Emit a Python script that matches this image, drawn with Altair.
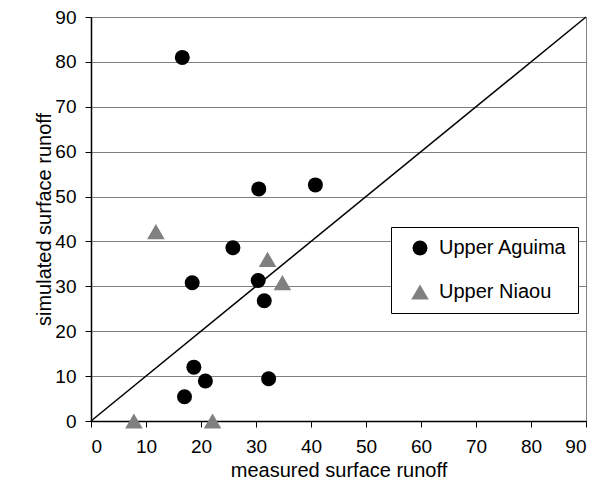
import altair as alt
import pandas as pd

# Data
aguima_x = [16.6, 30.5, 40.8, 25.8, 18.4, 30.4, 31.5, 18.7, 20.8, 32.3, 17.0]
aguima_y = [81.0, 51.7, 52.6, 38.6, 30.8, 31.3, 26.8, 12.0, 8.9, 9.4, 5.4]
niaou_x = [11.8, 32.1, 34.8, 7.8, 22.1]
niaou_y = [42.2, 36.0, 30.8, 0.0, 0.0]
series_names = ["Upper Aguima", "Upper Niaou"]
diag = [0, 90]
ticks = list(range(0, 91, 10))

pts = pd.DataFrame({
    "measured": aguima_x + niaou_x,
    "simulated": aguima_y + niaou_y,
    "series": [series_names[0]] * len(aguima_x) + [series_names[1]] * len(niaou_x),
})
line_df = pd.DataFrame({"v": diag})

FONT = "Liberation Sans"

xscale = alt.Scale(domain=[0, 90], nice=False, zero=False)
yscale = alt.Scale(domain=[0, 90], nice=False, zero=False)
cscale = alt.Scale(domain=series_names, range=["#000000", "#808080"])
sscale = alt.Scale(domain=series_names, range=["circle", "triangle-up"])

xaxis = alt.Axis(values=ticks, grid=False, title="measured surface runoff",
                 titleFontSize=20, titleX=247.5, titleY=55, titleBaseline="alphabetic",
                 labelPadding=10)
yaxis = alt.Axis(values=ticks, grid=True, title="simulated surface runoff",
                 titleFontSize=20, titleX=-40.5, titleY=202, titleBaseline="alphabetic",
                 titleAngle=270, labelPadding=9)

legend = alt.Legend(
    title=None, orient="none", legendX=300, legendY=210, padding=11,
    strokeColor="black", fillColor="white", cornerRadius=0,
    labelFont=FONT, labelFontSize=20, labelColor="black",
    symbolOffset=8, labelOffset=9, rowPadding=24, symbolSize=90,
    symbolStrokeWidth=0,
)

# layer that only defines the legend (its filter keeps no rows)
legend_layer = alt.Chart(pts).transform_filter("datum.measured < -1").mark_point(
    filled=True, opacity=1, size=90, strokeWidth=0
).encode(
    x=alt.X("measured:Q", scale=xscale, axis=xaxis),
    y=alt.Y("simulated:Q", scale=yscale, axis=yaxis),
    color=alt.Color("series:N", scale=cscale, legend=legend),
    shape=alt.Shape("series:N", scale=sscale, legend=legend),
)

line = alt.Chart(line_df).mark_line(color="black", strokeWidth=1.5).encode(
    x=alt.X("v:Q", scale=xscale, axis=xaxis),
    y=alt.Y("v:Q", scale=yscale, axis=yaxis),
)

points = alt.Chart(pts).mark_point(filled=True, opacity=1).encode(
    x=alt.X("measured:Q", scale=xscale, axis=xaxis),
    y=alt.Y("simulated:Q", scale=yscale, axis=yaxis),
    color=alt.Color("series:N", scale=cscale, legend=None),
    shape=alt.Shape("series:N", scale=sscale, legend=None),
    size=alt.Size("series:N", scale=alt.Scale(domain=series_names, range=[225, 310]), legend=None),
)

chart = alt.layer(legend_layer, line, points).properties(
    width=495, height=404,
    autosize=alt.AutoSizeParams(type="none"),
    padding={"left": 83, "top": 9, "right": 6, "bottom": 60},
    background="white",
).configure_view(
    stroke="#808080", strokeWidth=1,
).configure_axis(
    labelFont=FONT, titleFont=FONT, labelFontSize=19, labelColor="black",
    titleColor="black", titleFontWeight="normal",
    domainColor="black", domainWidth=1.5, tickColor="black", tickSize=6, tickWidth=1,
    gridColor="#808080", gridWidth=1.2, gridOpacity=1,
)

chart.save("out.html", embed_options={"renderer": "svg", "actions": False})
